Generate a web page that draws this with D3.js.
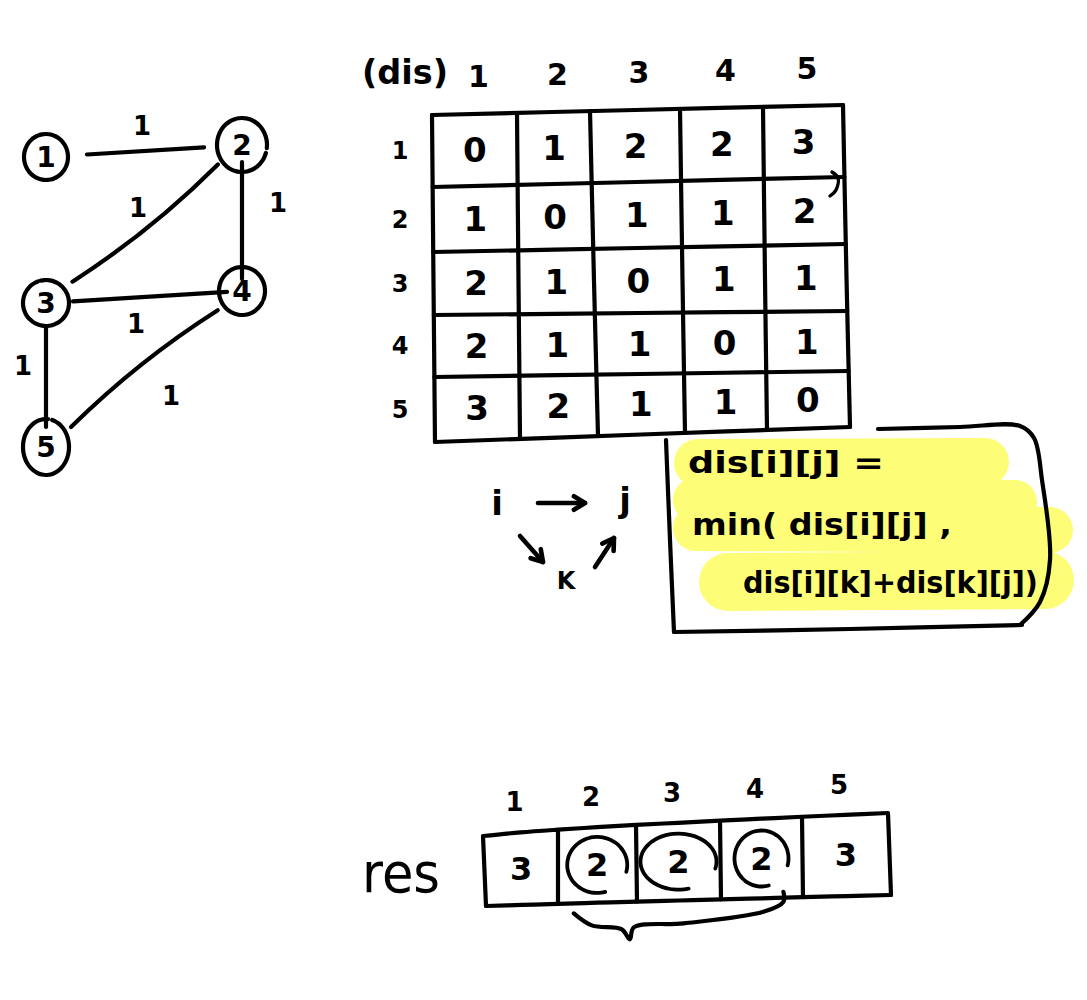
<!DOCTYPE html>
<html><head><meta charset="utf-8">
<script src="https://cdn.jsdelivr.net/npm/d3@7"></script>
<style>body{margin:0;background:#fff}svg{display:block}</style>
</head><body><svg id="c" width="1087" height="1000"></svg>
<script>
// ---------------- DATA ----------------
const nodes = [1, 2, 3, 4, 5];
const edges = [[1, 2], [2, 3], [2, 4], [3, 4], [3, 5], [4, 5]];
const edgeWeights = [1, 1, 1, 1, 1, 1];
const disTitle = "(dis)";
const disRowLabels = ["1", "2", "3", "4", "5"];
const disColLabels = ["1", "2", "3", "4", "5"];
const dis = [
  [0, 1, 2, 2, 3],
  [1, 0, 1, 1, 2],
  [2, 1, 0, 1, 1],
  [2, 1, 1, 0, 1],
  [3, 2, 1, 1, 0]
];
const formulaLines = ["dis[i][j] =", "min( dis[i][j] ,", "dis[i][k]+dis[k][j])"];
const pathLetters = ["i", "j", "K"];
const resTitle = "res";
const resLabels = ["1", "2", "3", "4", "5"];
const res = [3, 2, 2, 2, 3];
const circled = [2, 3, 4];

// ---------------- DRAWING ----------------
const svg = d3.select("#c");
const INK = "#000";
const FONT = "DejaVu Sans, sans-serif";
const LW = 4.2;
const smooth = d3.line().curve(d3.curveCatmullRom.alpha(0.5));

function stroke(pts, w = LW, color = INK) {
  return svg.append("path").attr("d", smooth(pts)).attr("fill", "none")
    .attr("stroke", color).attr("stroke-width", w)
    .attr("stroke-linecap", "round").attr("stroke-linejoin", "round");
}
function text(t, x, y, size, opt = {}) {
  const el = svg.append("text").attr("x", x).attr("y", y).text(t)
    .attr("font-family", FONT).attr("font-size", size)
    .attr("text-anchor", opt.anchor || "middle")
    .attr("dominant-baseline", opt.baseline || "central")
    .attr("font-weight", opt.weight || "bold")
    .attr("fill", INK);
  if (opt.len) el.attr("textLength", opt.len).attr("lengthAdjust", "spacingAndGlyphs");
  return el;
}
function arrow(x1, y1, x2, y2, head = 13) {
  stroke([[x1, y1], [x2, y2]], 4.6);
  const a = Math.atan2(y2 - y1, x2 - x1);
  const p1 = [x2 - head * Math.cos(a - 0.55), y2 - head * Math.sin(a - 0.55)];
  const p2 = [x2 - head * Math.cos(a + 0.55), y2 - head * Math.sin(a + 0.55)];
  svg.append("path").attr("d", d3.line()([p1, [x2, y2], p2]))
    .attr("fill", "none").attr("stroke", INK).attr("stroke-width", 4.6)
    .attr("stroke-linecap", "round").attr("stroke-linejoin", "round");
}
function ellipseArc(cx, cy, rx, ry, a0, a1, w = LW) {
  const pts = d3.range(0, 41).map(k => {
    const a = a0 + (a1 - a0) * k / 40;
    return [cx + rx * Math.cos(a), cy + ry * Math.sin(a)];
  });
  return stroke(pts, w);
}

// ---- Graph ----
const nodeCol = [0, 1, 0, 1, 0];
const nodeRow = [0, 0, 1, 1, 2];
const gx = d3.scaleLinear().domain([0, 1]).range([46, 242]);
const gy = d3.scaleLinear().domain([0, 1, 2]).range([157, 303, 447]);
const colTilt = -12;
const pos = n => [gx(nodeCol[n - 1]), gy(nodeRow[n - 1]) + colTilt * nodeCol[n - 1]];
const nodeR = [[22, 23], [25, 27], [23, 23], [23, 24], [23, 28]];
const nodeGap = [[-1.9, 4.3], [0.3, 6.4], [-1.8, 4.35], [0.5, 6.65], [-1.3, 4.8]];
const edgeTrim = [[41, 38], [31, 34], [17, 12], [27, 15], [24, 20], [31, 32]];
const edgeBend = [0, -10, 0, 0, 0, 10];
const labelOff = [[-2, -25], [-6, -16], [36, -15], [-8, 27], [-23, -9], [27, 27]];

edges.forEach(([a, b], i) => {
  const p = pos(a), q = pos(b);
  const dx = q[0] - p[0], dy = q[1] - p[1], L = Math.hypot(dx, dy);
  const ux = dx / L, uy = dy / L;
  const s = [p[0] + ux * edgeTrim[i][0], p[1] + uy * edgeTrim[i][0]];
  const e = [q[0] - ux * edgeTrim[i][1], q[1] - uy * edgeTrim[i][1]];
  const m = [(s[0] + e[0]) / 2, (s[1] + e[1]) / 2];
  const c = [m[0] - uy * edgeBend[i], m[1] + ux * edgeBend[i]];
  const path = d3.path();
  path.moveTo(s[0], s[1]);
  path.quadraticCurveTo(c[0], c[1], e[0], e[1]);
  svg.append("path").attr("d", path.toString()).attr("fill", "none")
    .attr("stroke", INK).attr("stroke-width", LW).attr("stroke-linecap", "round");
  const mid = [(p[0] + q[0]) / 2, (p[1] + q[1]) / 2];
  text(String(edgeWeights[i]), mid[0] + labelOff[i][0], mid[1] + labelOff[i][1], 26);
});
nodes.forEach((n, i) => {
  const [cx, cy] = pos(n);
  ellipseArc(cx, cy, nodeR[i][0], nodeR[i][1], nodeGap[i][0], nodeGap[i][1]);
  text(String(n), cx, cy, 28);
});

// ---- dis matrix ----
const xTop = d3.scaleLinear().domain([0, 1, 2, 3, 4, 5]).range([432, 517, 590, 680, 763, 843]);
const xBot = d3.scaleLinear().domain([0, 1, 2, 3, 4, 5]).range([435, 520, 598, 685, 767, 850]);
const yLeft = d3.scaleLinear().domain([0, 1, 2, 3, 4, 5]).range([115, 187, 252, 315, 377, 442]);
const yRight = d3.scaleLinear().domain([0, 1, 2, 3, 4, 5]).range([105, 177, 244, 311, 371, 427]);
const n = disColLabels.length;
const P = (u, v) => [
  xTop(u) + (xBot(u) - xTop(u)) * v / n,
  yLeft(v) + (yRight(v) - yLeft(v)) * u / n
];
d3.range(n + 1).forEach(k => {
  stroke([P(k, 0), P(k, n / 2), P(k, n)]);
  stroke([P(0, k), P(n / 2, k), P(n, k)]);
});
// small hook near the right side of the second row line
stroke([[832, 172], [838, 178], [836, 190], [830, 196]], 3.4);

dis.forEach((row, r) => row.forEach((v, c) => {
  const [x, y] = P(c + 0.5, r + 0.5);
  text(String(v), x, y, 34);
}));
disRowLabels.forEach((l, r) => {
  const [, y] = P(0, r + 0.5);
  text(l, 400, y, 24);
});
disColLabels.forEach((l, c) => {
  const [x, y] = P(c + 0.5, 0);
  text(l, x + 4, y - 38, 30);
});
text(disTitle, 405, 72, 34, { len: 86 });

// ---- formula box ----
const yellow = "#fdfd78";
[[[698, 463], [985, 462]], [[695, 500], [1015, 502]], [[696, 528], [1050, 530]], [[728, 582], [1045, 580]]]
  .forEach((pts, i) => stroke(pts, [48, 44, 46, 58][i], yellow));
stroke([[666, 440], [670, 540], [674, 632]]);
stroke([[674, 632], [850, 629], [1022, 625]]);
stroke([[878, 429], [960, 427], [1020, 426], [1034, 438], [1042, 480], [1050, 560], [1040, 602], [1020, 625]]);
formulaLines.forEach((t, i) => {
  const x0 = [688, 692, 743][i];
  const x1 = [884, 952, 1038][i];
  const yb = [473, 535, 593][i];
  text(t, x0, yb, 31, { anchor: "start", baseline: "alphabetic", len: x1 - x0 });
});

// ---- i -> j via K ----
text(pathLetters[0], 497, 503, 34);
text(pathLetters[1], 625, 500, 34);
text(pathLetters[2], 566, 581, 24);
arrow(538, 503, 585, 503);
arrow(520, 536, 543, 562);
arrow(595, 567, 614, 538);

// ---- res array ----
const rxTop = d3.scaleLinear().domain([0, 1, 2, 3, 4, 5]).range([483, 558, 636, 720, 802, 888]);
const rxBot = d3.scaleLinear().domain([0, 1, 2, 3, 4, 5]).range([486, 558, 637, 721, 803, 891]);
const m = res.length;
const ryTop = u => 836 - 23 * Math.pow(u / m, 0.8);
const ryBot = u => 906 - 11 * u / m;
const R = (u, v) => [rxTop(u) + (rxBot(u) - rxTop(u)) * v, ryTop(u) + (ryBot(u) - ryTop(u)) * v];
stroke(d3.range(0, m + 0.01, 0.5).map(u => R(u, 0)));
stroke(d3.range(0, m + 0.01, 0.5).map(u => R(u, 1)));
d3.range(m + 1).forEach(k => stroke([R(k, 0.02), R(k, 1)]));
res.forEach((v, i) => {
  const [x, y] = R(i + 0.5, 0.5);
  text(String(v), x, y, 32);
  if (circled.includes(i + 1)) {
    const rx = [30, 38, 27][circled.indexOf(i + 1)];
    ellipseArc(x, y, rx, 28, 1.3, Math.PI * 2 + 0.25, 3.8);
  }
});
resLabels.forEach((l, i) => {
  const [x, y] = R(i + 0.5, 0);
  text(l, x - 6, y - 30, 26);
});
text(resTitle, 401, 872, 56, { len: 78, weight: "normal" });
// brace under the circled cells
const b0 = R(circled[0] - 1 + 0.2, 1), b1 = R(circled[circled.length - 1] - 0.3, 1);
stroke([[b0[0], b0[1] + 10], [b0[0] + 18, b0[1] + 22], [b0[0] + 48, b0[1] + 26],
        [b0[0] + 56, b0[1] + 36], [b0[0] + 60, b0[1] + 24], [b0[0] + 110, b0[1] + 20],
        [b1[0] - 15, b1[1] + 14], [b1[0] + 5, b1[1] + 4], [b1[0] + 5, b1[1] - 6]]);
</script>
</body></html>
